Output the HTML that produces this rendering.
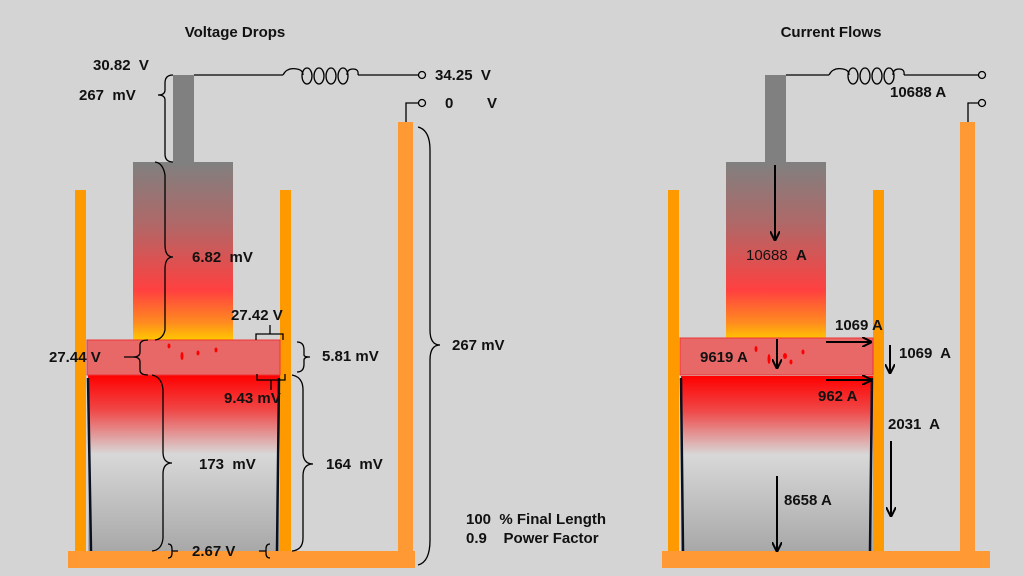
<!DOCTYPE html>
<html><head><style>
html,body{margin:0;padding:0;background:#d4d4d4;}
svg{display:block;font-family:"Liberation Sans",sans-serif;font-weight:bold;}
text{font-size:15px;fill:#111;white-space:pre;}
</style></head><body>
<svg width="1024" height="576" viewBox="0 0 1024 576" xml:space="preserve">
<defs>
<linearGradient id="el" x1="0" y1="0" x2="0" y2="1">
<stop offset="0" stop-color="#808080"/><stop offset="0.35" stop-color="#b06868"/><stop offset="0.72" stop-color="#ff4040"/><stop offset="0.9" stop-color="#ff8a20"/><stop offset="1" stop-color="#ffc800"/>
</linearGradient>
<linearGradient id="ing" x1="0" y1="0" x2="0" y2="1">
<stop offset="0" stop-color="#ff0000"/><stop offset="0.2" stop-color="#f04848"/><stop offset="0.45" stop-color="#d8d8d8"/><stop offset="1" stop-color="#a8a8a8"/>
</linearGradient>
<marker id="ah" markerWidth="10" markerHeight="10" refX="9" refY="5" orient="auto" markerUnits="userSpaceOnUse"><path d="M0,0 L10,5 L0,10" fill="none" stroke="#000" stroke-width="2"/></marker>
<g id="coil" fill="none" stroke="#000" stroke-width="1.3">
<path d="M0,0 Q4,-8 14,-6 Q20,-5 20,0"/>
<ellipse cx="24" cy="1" rx="5" ry="8"/><ellipse cx="36" cy="1" rx="5" ry="8"/><ellipse cx="48" cy="1" rx="5" ry="8"/><ellipse cx="60" cy="1" rx="5" ry="8"/>
<path d="M64,0 Q64,-6 70,-6 Q76,-6 75,0"/>
</g>
</defs>

<!-- LEFT -->
<text x="235" y="37" text-anchor="middle">Voltage Drops</text>
<rect x="68" y="551" width="347" height="17" fill="#ff9933"/>
<rect x="75" y="190" width="11" height="361" fill="#ff9900"/>
<rect x="280" y="190" width="11" height="361" fill="#ff9900"/>
<rect x="398" y="122" width="15" height="429" fill="#ff9933"/>
<rect x="173" y="75" width="21" height="88" fill="#808080"/>
<rect x="133" y="162" width="100" height="178" fill="url(#el)"/>
<rect x="88" y="375" width="192" height="176" fill="url(#ing)"/>
<path d="M88,378 L91,551 M279,378 L277,551" stroke="#0a1020" stroke-width="2.5"/>
<rect x="87" y="340" width="193" height="35" fill="#e86868" stroke="#ee3333" stroke-width="1"/>
<g fill="#f00"><ellipse cx="169" cy="346" rx="1.5" ry="2.5"/><ellipse cx="182" cy="356" rx="1.5" ry="4"/><ellipse cx="198" cy="353" rx="1.5" ry="2.5"/><ellipse cx="216" cy="350" rx="1.5" ry="2.5"/></g>
<g fill="none" stroke="#000" stroke-width="1.3">
<path d="M194,75 H283 M358,75 H418"/>
<use href="#coil" x="283" y="75"/>
<circle cx="422" cy="75" r="3.5" fill="#d4d4d4"/>
<path d="M406,122 V103 H418"/><circle cx="422" cy="103" r="3.5" fill="#d4d4d4"/>
<path d="M173,75 Q165,75 165,83 V90 Q165,95 158,95 Q165,95 165,100 V154 Q165,162 173,162"/>
<path d="M155,162 Q163,163 165,175 V245 Q165,257 173,257 Q165,257 165,269 V330 Q163,339 155,340"/>
<path d="M148,340 Q140,340 140,345 V352 Q140,357 133,357 H124 M133,357 Q140,357 140,362 V370 Q140,375 148,375"/>
<path d="M152,375 Q162,377 163,390 V452 Q163,463 172,463 Q163,463 163,474 V538 Q162,550 152,551"/>
<path d="M256,340 V334 H283 V340 M270,334 V325"/>
<path d="M257,374 V380 H285 V374 M271,380 V390"/>
<path d="M297,342 Q304,342 304,350 V355 Q304,357 310,357 Q304,357 304,360 V364 Q304,372 297,372"/>
<path d="M292,375 Q303,377 303,390 V452 Q303,464 313,464 Q303,464 303,476 V538 Q303,550 292,551"/>
<path d="M418,127 Q430,130 430,150 V330 Q430,345 440,345 Q430,345 430,360 V540 Q430,562 418,565"/>
<path d="M168,544 Q172,544 172,549 V551 H178 M172,551 V553 Q172,558 168,558"/>
<path d="M270,544 Q266,544 266,549 V551 H259 M266,551 V553 Q266,558 270,558"/>
</g>
<text x="93" y="70">30.82  V</text>
<text x="79" y="100">267  mV</text>
<text x="435" y="80">34.25  V</text>
<text x="445" y="108">0</text><text x="487" y="108">V</text>
<text x="192" y="262">6.82  mV</text>
<text x="231" y="320">27.42 V</text>
<text x="49" y="362">27.44 V</text>
<text x="322" y="361">5.81 mV</text>
<text x="224" y="403">9.43 mV</text>
<text x="199" y="469">173  mV</text>
<text x="326" y="469">164  mV</text>
<text x="452" y="350">267 mV</text>
<text x="192" y="556">2.67 V</text>
<text x="466" y="524">100  % Final Length</text>
<text x="466" y="543">0.9    Power Factor</text>

<!-- RIGHT -->
<text x="831" y="37" text-anchor="middle">Current Flows</text>
<rect x="662" y="551" width="328" height="17" fill="#ff9933"/>
<rect x="668" y="190" width="11" height="361" fill="#ff9900"/>
<rect x="873" y="190" width="11" height="361" fill="#ff9900"/>
<rect x="960" y="122" width="15" height="429" fill="#ff9933"/>
<rect x="765" y="75" width="21" height="88" fill="#808080"/>
<rect x="726" y="162" width="100" height="178" fill="url(#el)"/>
<rect x="681" y="376" width="192" height="175" fill="url(#ing)"/>
<path d="M681,378 L683,551 M872,378 L870,551" stroke="#0a1020" stroke-width="2.5"/>
<rect x="680" y="338" width="193" height="37" fill="#e86868" stroke="#ee3333" stroke-width="1"/>
<g fill="#f00"><ellipse cx="756" cy="349" rx="1.5" ry="3"/><ellipse cx="769" cy="359" rx="1.5" ry="5"/><ellipse cx="785" cy="356" rx="2" ry="3"/><ellipse cx="791" cy="362" rx="1.5" ry="2.5"/><ellipse cx="803" cy="352" rx="1.5" ry="2.5"/></g>
<g fill="none" stroke="#000" stroke-width="1.3">
<path d="M786,75 H829 M904,75 H978"/>
<use href="#coil" x="829" y="75"/>
<circle cx="982" cy="75" r="3.5" fill="#d4d4d4"/>
<path d="M968,122 V103 H978"/><circle cx="982" cy="103" r="3.5" fill="#d4d4d4"/>
</g>
<g stroke="#000" stroke-width="2" marker-end="url(#ah)">
<line x1="775" y1="165" x2="775" y2="240"/>
<line x1="777" y1="339" x2="777" y2="368"/>
<line x1="777" y1="476" x2="777" y2="551"/>
<line x1="826" y1="342" x2="871" y2="342"/>
<line x1="826" y1="380" x2="871" y2="380"/>
<line x1="890" y1="345" x2="890" y2="373"/>
<line x1="891" y1="441" x2="891" y2="516"/>
</g>
<text x="890" y="97">10688 A</text>
<text x="746" y="260" style="font-weight:normal">10688</text><text x="796" y="260">A</text>
<text x="835" y="330">1069 A</text>
<text x="899" y="358">1069  A</text>
<text x="700" y="362">9619 A</text>
<text x="818" y="401">962 A</text>
<text x="888" y="429">2031  A</text>
<text x="784" y="505">8658 A</text>
</svg>
</body></html>
